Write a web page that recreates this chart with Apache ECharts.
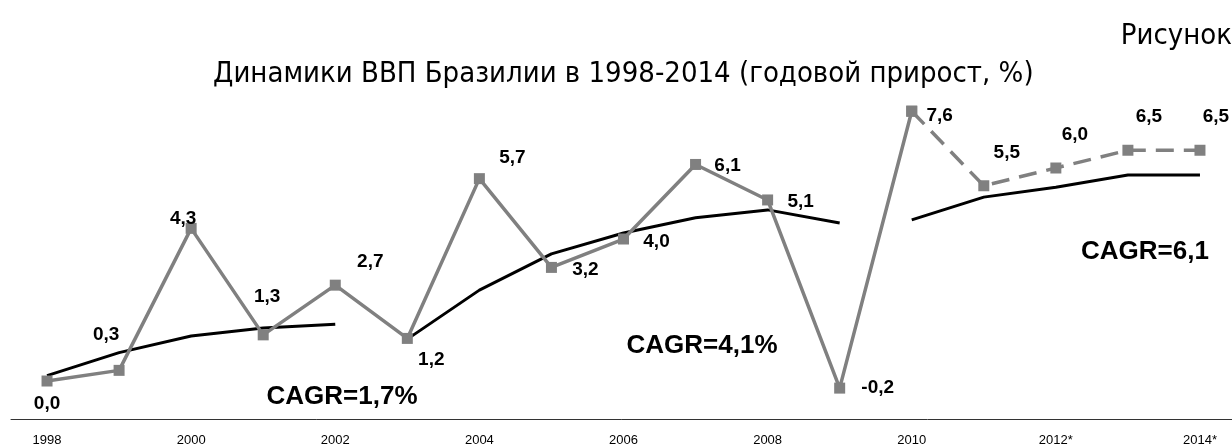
<!DOCTYPE html>
<html>
<head>
<meta charset="utf-8">
<script src="https://cdn.jsdelivr.net/npm/echarts@6/dist/echarts.min.js"></script>
<style>
  html, body { margin: 0; padding: 0; background: #fff; }
  #chart { width: 1232px; height: 446px; }
</style>
</head>
<body>
<div id="chart"></div>
<script>
// годы (ось X), подписи только у каждого второго
var years = ['1998', '1999', '2000', '2001', '2002', '2003', '2004', '2005', '2006',
             '2007', '2008', '2009', '2010', '2011', '2012*', '2013*', '2014*'];

// годовой прирост ВВП, %
var gdp = [0.0, 0.3, 4.3, 1.3, 2.7, 1.2, 5.7, 3.2, 4.0, 6.1, 5.1, -0.2, 7.6, 5.5, 6.0, 6.5, 6.5];

// с 2010 года прогноз (пунктир)
var forecastFrom = 12;

// линии тренда по трём периодам
var trend1 = [0.15, 0.8, 1.27, 1.49, 1.6];                  // 1998-2002
var trend2 = [1.18, 2.56, 3.58, 4.17, 4.6, 4.82, 4.45];    // 2003-2009
var trend3 = [4.54, 5.18, 5.46, 5.8, 5.8];                 // 2010-2014

var cagrTexts = ['CAGR=1,7%', 'CAGR=4,1%', 'CAGR=6,1'];

// смещения подписей значений
var labelOffsets = [
	[0, 23], [-13, -36], [-8, -10], [4, -38], [35, -23], [24, 21], [33, -21],
	[34, 2], [33, 3], [32, 1], [33, 2], [38, 0], [28, 5], [23, -33], [19, -33],
	[21, -33], [16, -33]
];

function fmt(v) {
	return v.toFixed(1).replace('.', ',');
}

function place(arr, start) {
	var out = [];
	for (var i = 0; i < years.length; i++) out.push('-');
	for (var j = 0; j < arr.length; j++) out[start + j] = arr[j];
	return out;
}

var solidData = [];
var dashData = [];
for (var i = 0; i < gdp.length; i++) {
	var item = {
		value: gdp[i],
		label: { offset: labelOffsets[i] }
	};
	if (i <= forecastFrom) {
		solidData.push(item);
	} else {
		solidData.push('-');
	}
	if (i >= forecastFrom) {
		dashData.push(i === forecastFrom ? { value: gdp[i], label: { show: false } } : item);
	} else {
		dashData.push('-');
	}
}

var dom = document.getElementById('chart');
var myChart = echarts.init(dom);
var option = null;

var labelStyle = {
	show: true,
	position: 'inside',
	color: '#000',
	fontFamily: 'Liberation Sans, Arial, sans-serif',
	fontWeight: 'bold',
	fontSize: 19,
	formatter: function (p) { return fmt(p.value); }
};

var cagrFont = 'bold 26px "Liberation Sans", Arial, sans-serif';

function trendSeries(arr, start) {
	return {
		type: 'line',
		data: place(arr, start),
		symbol: 'none',
		z: 1,
		lineStyle: { color: '#000', width: 3 },
		silent: true
	};
}

function cagrText(txt, x, y) {
	return {
		type: 'text', x: x, y: y,
		style: { text: txt, font: cagrFont, fill: '#000', align: 'center', verticalAlign: 'middle' }
	};
}

option = {
	animation: false,
	backgroundColor: '#fff',
	title: {
		text: 'Динамики ВВП Бразилии в 1998-2014 (годовой прирост, %)',
		left: 208,
		top: 55,
		textStyle: {
			fontFamily: 'Liberation Sans Narrow, DejaVu Sans Condensed, Arial, sans-serif',
			fontWeight: 'normal',
			fontSize: 29,
			color: '#000'
		}
	},
	graphic: [
		{
			type: 'text', right: 0, top: 22,
			style: {
				text: 'Рисунок',
				font: '29px "Liberation Sans Narrow", "DejaVu Sans Condensed", Arial, sans-serif',
				fill: '#000'
			}
		},
		cagrText(cagrTexts[0], 342, 397),
		cagrText(cagrTexts[1], 702, 346),
		cagrText(cagrTexts[2], 1145, 252)
	],
	grid: { left: 11, right: -4, top: 97, bottom: 27, outerBoundsMode: 'none', containLabel: false },
	xAxis: {
		type: 'category',
		data: years,
		boundaryGap: true,
		axisLine: { onZero: false, lineStyle: { color: '#333', width: 1 } },
		axisTick: { interval: 1, length: 4, lineStyle: { color: '#333' } },
		axisLabel: {
			interval: 1,
			margin: 15,
			color: '#000',
			fontSize: 13,
			fontFamily: 'Liberation Sans, Arial, sans-serif'
		},
		splitLine: { show: false }
	},
	yAxis: {
		type: 'value',
		min: -1.07,
		max: 8,
		show: false,
		splitLine: { show: false }
	},
	series: [
		trendSeries(trend1, 0),
		trendSeries(trend2, 5),
		trendSeries(trend3, 12),
		{
			type: 'line',
			data: solidData,
			symbol: 'rect',
			symbolSize: 11,
			z: 3,
			itemStyle: { color: '#808080' },
			lineStyle: { color: '#808080', width: 3.5 },
			label: labelStyle
		},
		{
			type: 'line',
			data: dashData,
			symbol: 'rect',
			symbolSize: 11,
			z: 3,
			itemStyle: { color: '#808080' },
			lineStyle: { color: '#808080', width: 3.5, type: [18, 10] },
			label: labelStyle
		}
	]
};

if (option && typeof option === "object") {
	myChart.setOption(option, true);
}
</script>
</body>
</html>
